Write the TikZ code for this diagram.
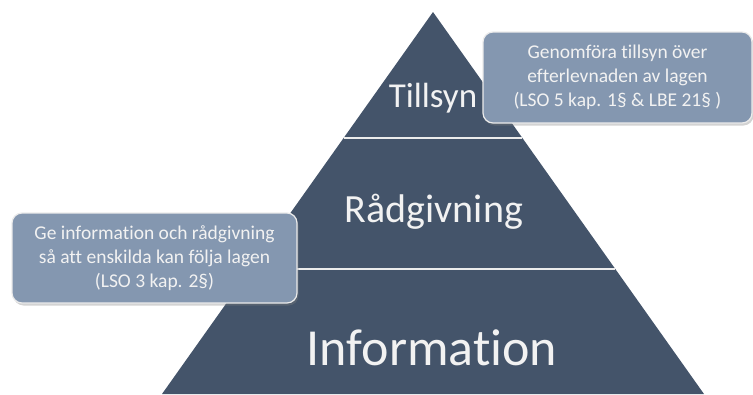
\documentclass[tikz,border=0pt]{standalone}
\usepackage{fontspec}
\setmainfont{Carlito}[Ligatures=NoCommon]
\usetikzlibrary{shadows}
\definecolor{pyrblue}{HTML}{44546A}
\definecolor{boxblue}{HTML}{8497B0}
\definecolor{txtwhite}{HTML}{F2F2F2}
\tikzset{level/.style={text=txtwhite, inner sep=0pt, anchor=base}}
\tikzset{callout/.style={fill=boxblue, draw=white!92!black, line width=1.2pt,
		rounded corners=10pt, text=txtwhite, align=center,
		drop shadow={shadow xshift=1.5pt, shadow yshift=-2.5pt, opacity=0.35},
		font=\fontsize{19.5}{24}\selectfont}}

\begin{document}
\begin{tikzpicture}[x=1pt, y=-1pt]
	\useasboundingbox (0,0) rectangle (753,394);
	
	% pyramid
	\fill[pyrblue] (433,12) -- (704,394) -- (162,394) -- cycle;
	\draw[white!85!gray, line width=1.5pt] (343.6,138) -- (522.4,138);
	\draw[white!85!gray, line width=1.5pt] (250.7,269) -- (615.3,269);
	
	\node[level, font=\fontsize{35}{40}\selectfont] (tillsyn) at (433,107) {Tillsyn};
	\node[level, font=\fontsize{40}{46}\selectfont] (radgivning) at (434,222) {Rådgivning};
	\node[level, font=\fontsize{52}{60}\selectfont] (information) at (432,365) {Information};
	
	% callouts
	\node[callout, minimum width=269pt, minimum height=91pt] (tillsynbox) at (617.5,77.5)
		{Genomföra tillsyn över\\efterlevnaden av lagen\\(LSO 5 kap. 1§ \& LBE 21§ )};
	\node[callout, minimum width=285pt, minimum height=90pt] (infobox) at (154.5,258)
		{Ge information och rådgivning\\så att enskilda kan följa lagen\\(LSO 3 kap. 2§)};
	
\end{tikzpicture}
\end{document}
